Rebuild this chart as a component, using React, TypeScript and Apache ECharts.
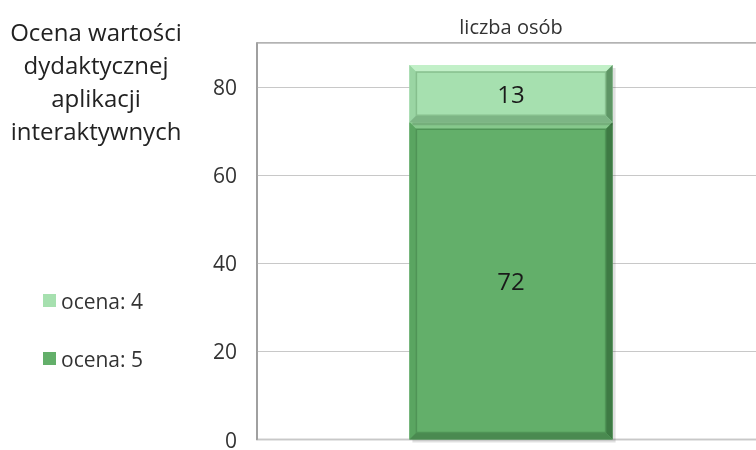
import React, { useEffect, useRef } from "react";
import * as echarts from "echarts";

const categories = ["liczba osób"];
const seriesNames = ["ocena: 5", "ocena: 4"];
const ocena5 = [72];
const ocena4 = [13];
const yTicks = [0, 20, 40, 60, 80];

const palettes = [
  { face: "#63AF6A", top: "#86C88C", left: "#5AA561", right: "#3E7A44", bottom: "#4A8A50", rim: "#4F9456" },
  { face: "#A6E0AF", top: "#C2F0C8", left: "#9AD5A3", right: "#5E9565", bottom: "#7DB585", rim: "#86BF8D" },
];

const FONT = "'Open Sans', sans-serif";

export default function App() {
  const ref = useRef<HTMLDivElement>(null);
  useEffect(() => {
    if (!ref.current) return;
    const chart = echarts.init(ref.current, undefined, { renderer: "svg" });
    const stacks = [ocena5, ocena4];
    const makeRender = (si: number) => (params: any, api: any) => {
      const idx = api.value(0);
      const val = api.value(1);
      let base = 0;
      for (let k = 0; k < si; k++) base += stacks[k][idx];
      const p0 = api.coord([idx, base]);
      const p1 = api.coord([idx, base + val]);
      const band = api.size([1, 0])[0];
      const w = band * 0.4;
      const x0 = p0[0] - w / 2;
      const x1 = p0[0] + w / 2;
      const y1 = p0[1];
      const y0 = p1[1];
      const b = 7;
      const c = palettes[si];
      return {
        type: "group",
        children: [
          { type: "rect", shape: { x: x0 + 3, y: y0 + 3, width: x1 - x0, height: y1 - y0 }, style: { fill: "rgba(0,0,0,0.12)" } },
          { type: "rect", shape: { x: x0, y: y0, width: x1 - x0, height: y1 - y0 }, style: { fill: c.face } },
          { type: "polygon", shape: { points: [[x0, y0], [x1, y0], [x1 - b, y0 + b], [x0 + b, y0 + b]] }, style: { fill: c.top } },
          { type: "polygon", shape: { points: [[x0, y0], [x0 + b, y0 + b], [x0 + b, y1 - b], [x0, y1]] }, style: { fill: c.left } },
          { type: "polygon", shape: { points: [[x1, y0], [x1, y1], [x1 - b, y1 - b], [x1 - b, y0 + b]] }, style: { fill: c.right } },
          { type: "polygon", shape: { points: [[x0, y1], [x0 + b, y1 - b], [x1 - b, y1 - b], [x1, y1]] }, style: { fill: c.bottom } },
          { type: "rect", shape: { x: x0 + b, y: y0 + b, width: x1 - x0 - 2 * b, height: y1 - y0 - 2 * b }, style: { fill: "none", stroke: c.rim, lineWidth: 1.5 } },
          {
            type: "text",
            x: (x0 + x1) / 2,
            y: (y0 + y1) / 2,
            style: { text: String(val), textAlign: "center", textVerticalAlign: "middle", font: `24px ${FONT}`, fill: "#1a1a1a" },
          },
        ],
      };
    };
    chart.setOption({
      animation: false,
      grid: { left: 257, top: 43, width: 508, height: 403, show: true, borderColor: "#9a9a9a", borderWidth: 1.5, backgroundColor: "#ffffff" },
      legend: {
        orient: "vertical",
        left: 43,
        top: 290,
        padding: 0,
        itemGap: 37,
        itemWidth: 13,
        itemHeight: 13,
        icon: "rect",
        data: ["ocena: 4", "ocena: 5"],
        textStyle: { fontSize: 21, color: "#333", fontFamily: FONT, padding: [0, 0, 0, 0] },
      },
      graphic: [
        {
          type: "text",
          x: 96,
          y: 15,
          style: {
            text: "Ocena wartości\ndydaktycznej\naplikacji\ninteraktywnych",
            textAlign: "center",
            textVerticalAlign: "top",
            font: `24px ${FONT}`,
            lineHeight: 33,
            fill: "#222",
          },
        },
      ],
      xAxis: {
        type: "category",
        position: "top",
        data: categories,
        axisLine: { show: false },
        axisTick: { show: false },
        axisLabel: { margin: 7, fontSize: 20, color: "#333", fontFamily: FONT },
      },
      yAxis: {
        type: "value",
        min: 0,
        max: 90,
        interval: 20,
        axisLine: { show: true, lineStyle: { color: "#9a9a9a", width: 1.5 } },
        axisTick: { show: false },
        splitLine: { lineStyle: { color: "#c8c8c8", width: 1.2 } },
        axisLabel: {
          margin: 20,
          fontSize: 21,
          color: "#333",
          fontFamily: FONT,
          formatter: (v: number) => (yTicks.includes(v) ? String(v) : ""),
        },
      },
      series: [
        {
          name: seriesNames[0],
          type: "custom",
          itemStyle: { color: palettes[0].face },
          data: ocena5.map((v, i) => [i, v]),
          renderItem: makeRender(0),
        },
        {
          name: seriesNames[1],
          type: "custom",
          itemStyle: { color: palettes[1].face },
          data: ocena4.map((v, i) => [i, v]),
          renderItem: makeRender(1),
        },
      ],
    });
    return () => chart.dispose();
  }, []);
  return <div ref={ref} style={{ width: 780, height: 450, position: "fixed", left: 0, top: 0 }} />;
}
